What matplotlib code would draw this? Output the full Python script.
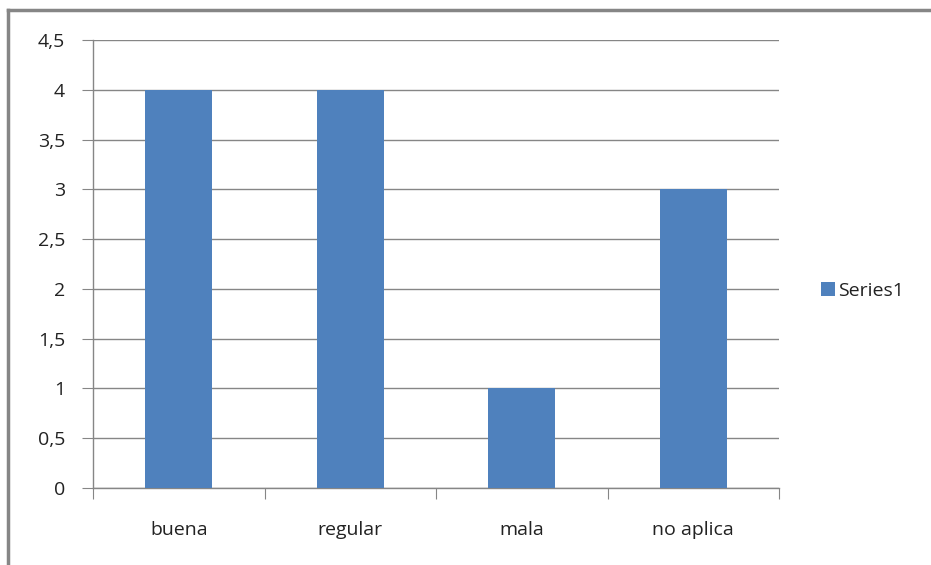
import matplotlib.pyplot as plt
from matplotlib.lines import Line2D
from matplotlib.patches import Patch

categories = ['buena', 'regular', 'mala', 'no aplica']
values = [4, 4, 1, 3]
yticks = [0, 0.5, 1, 1.5, 2, 2.5, 3, 3.5, 4, 4.5]
ytick_labels = ['0', '0,5', '1', '1,5', '2', '2,5', '3', '3,5', '4', '4,5']

plt.rcParams['font.family'] = ['Open Sans', 'DejaVu Sans']

fig = plt.figure(figsize=(9.31, 5.65), dpi=100)
W, H = 931, 565
ax = fig.add_axes([93 / W, 1 - 488 / H, (779 - 93) / W, (488 - 40) / H])

grey = '#868686'
txt = '#222222'
x = range(len(categories))
ax.bar(x, values, width=0.39, color='#4F81BD', zorder=3, label='Series1')

ax.set_xlim(-0.5, len(categories) - 0.5)
ax.set_ylim(0, 4.5)
ax.set_yticks(yticks)
ax.set_yticklabels(ytick_labels)
ax.yaxis.grid(True, color=grey, linewidth=1, zorder=0)

# category labels sit between the boundary ticks
ax.set_xticks([i - 0.5 for i in range(len(categories) + 1)])
ax.set_xticklabels([])
ax.set_xticks(list(x), minor=True)
ax.set_xticklabels(categories, minor=True)
ax.tick_params(axis='x', which='minor', length=0, pad=24, labelsize=14, colors=txt)
ax.tick_params(axis='x', which='major', length=8, direction='out', color=grey)
ax.tick_params(axis='y', length=8, direction='out', color=grey, pad=12, labelsize=14,
               labelcolor=txt)

for side in ['top', 'right']:
    ax.spines[side].set_visible(False)
for side in ['left', 'bottom']:
    ax.spines[side].set_color(grey)
    ax.spines[side].set_linewidth(1)

handle = Patch(facecolor='#4F81BD', edgecolor='none')
fig.legend([handle], ['Series1'], loc='center left', bbox_to_anchor=(803 / W, 1 - 291 / H),
           frameon=False, fontsize=14, handlelength=0.72, handleheight=0.72, handletextpad=0.2,
           labelcolor=txt)

# chart frame
fig.add_artist(Line2D([8 / W, 8 / W], [0, 1 - 10 / H], color=grey, linewidth=2.5,
                      transform=fig.transFigure))
fig.add_artist(Line2D([8 / W, 1], [1 - 10 / H, 1 - 10 / H], color=grey, linewidth=2.5,
                      transform=fig.transFigure))

fig.savefig('out.png', dpi=100, facecolor='white')
